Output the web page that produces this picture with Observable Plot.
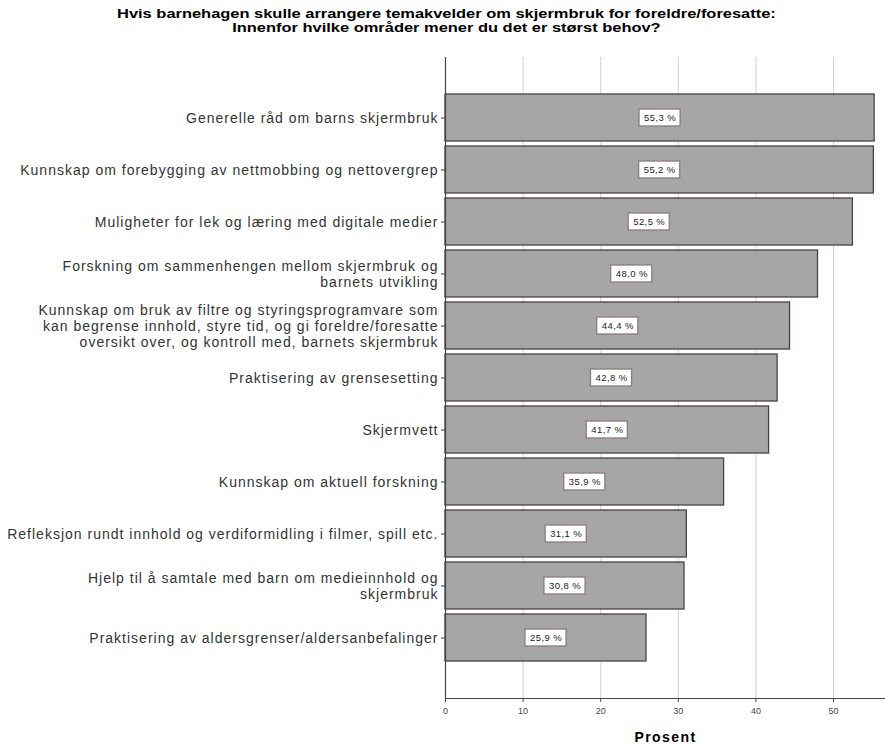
<!DOCTYPE html>
<html><head><meta charset="utf-8">
<script src="https://cdn.jsdelivr.net/npm/d3@7"></script>
<script src="https://cdn.jsdelivr.net/npm/@observablehq/plot@0.6"></script>
<style>
body{margin:0;background:#fff;font-family:"Liberation Sans",Arial,sans-serif;}
#title{height:50px;box-sizing:border-box;padding-top:8px;padding-left:8px;width:885px;text-align:center;color:#000;}
#title span{display:inline-block;font-weight:bold;font-size:12px;line-height:13.5px;transform:scaleX(1.37);transform-origin:center;}
#chart svg{display:block;}
</style></head><body>
<div id="title"><span>Hvis barnehagen skulle arrangere temakvelder om skjermbruk for foreldre/foresatte:<br>Innenfor hvilke områder mener du det er størst behov?</span></div>
<div id="chart"></div>
<script>
const categories = [
  "Generelle råd om barns skjermbruk",
  "Kunnskap om forebygging av nettmobbing og nettovergrep",
  "Muligheter for lek og læring med digitale medier",
  "Forskning om sammenhengen mellom skjermbruk og\nbarnets utvikling",
  "Kunnskap om bruk av filtre og styringsprogramvare som\nkan begrense innhold, styre tid, og gi foreldre/foresatte\noversikt over, og kontroll med, barnets skjermbruk",
  "Praktisering av grensesetting",
  "Skjermvett",
  "Kunnskap om aktuell forskning",
  "Refleksjon rundt innhold og verdiformidling i filmer, spill etc.",
  "Hjelp til å samtale med barn om medieinnhold og\nskjermbruk",
  "Praktisering av aldersgrenser/aldersanbefalinger"
];
const values = [55.3, 55.2, 52.5, 48.0, 44.4, 42.8, 41.7, 35.9, 31.1, 30.8, 25.9];
const xTicks = [0, 10, 20, 30, 40, 50];
const xLabel = "Prosent";

const data = categories.map((c, i) => ({
  category: c,
  value: values[i],
  label: values[i].toFixed(1).replace(".", ",") + " %"
}));

const chart = Plot.plot({
  width: 885,
  height: 697,
  marginTop: 7,
  marginBottom: 49,
  marginLeft: 445,
  marginRight: 0,
  style: {fontFamily: "Liberation Sans, Arial, sans-serif", background: "#fff", overflow: "visible"},
  x: {domain: [0, 56.7], ticks: xTicks},
  y: {domain: categories, paddingInner: 0.1, paddingOuter: 0.68, align: 0.5},
  marks: [
    Plot.gridX(xTicks, {stroke: "#d2d2d2", strokeOpacity: 1}),
    Plot.barX(data, {x: "value", y: "category", fill: "#a6a6a6", stroke: "#4a4242", strokeWidth: 1.3}),
    Plot.barX(data, {x1: d => d.value / 2 - 2.65, x2: d => d.value / 2 + 2.65, y: "category", insetTop: 15, insetBottom: 15, fill: "white", stroke: "#8c7c7a", strokeWidth: 1.3}),
    Plot.text(data, {x: d => d.value / 2, y: "category", text: "label", fontSize: 9.5, fill: "#222"}),
    Plot.axisX({ticks: xTicks, tickSize: 4, fontSize: 9, color: "#444", label: null, tickPadding: 5}),
    Plot.axisY({tickSize: 4, fontSize: 14, lineHeight: 1.15, label: null, color: "#333", tickPadding: 3}),
    Plot.ruleX([0], {stroke: "#444", strokeWidth: 1.2}),
    Plot.frame({anchor: "bottom", stroke: "#444", strokeWidth: 1.2}),
    Plot.text([xLabel], {frameAnchor: "bottom", dy: 43, fontWeight: "bold", fontSize: 14, fill: "#000"})
  ]
});
const svg = d3.select(chart);
svg.selectAll('g[aria-label="y-axis tick label"] text').style("letter-spacing", "1.0px");
const textGroups = svg.selectAll('g[aria-label="text"]').nodes();
if (textGroups[0]) d3.select(textGroups[0]).selectAll("text").style("letter-spacing", "0.4px");
if (textGroups[1]) d3.select(textGroups[1]).selectAll("text").style("letter-spacing", "1.4px");
document.getElementById("chart").appendChild(chart);
</script>
</body></html>
